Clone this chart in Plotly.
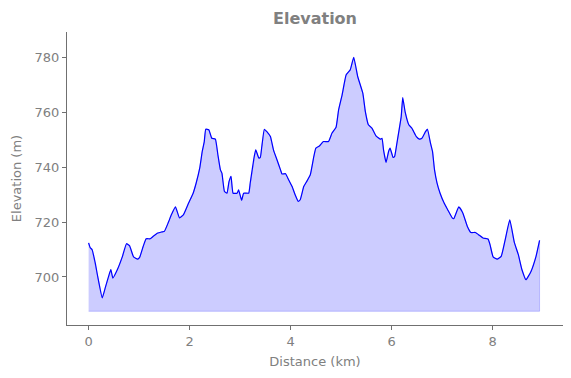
import plotly.graph_objects as go

distance_km = [0.00, 0.03, 0.07, 0.13, 0.18, 0.27, 0.33, 0.40, 0.44, 0.48, 0.57, 0.67, 0.75, 0.81, 0.89, 0.97,
               1.01, 1.08, 1.14, 1.22, 1.28, 1.37, 1.45, 1.50, 1.58, 1.64, 1.72, 1.80, 1.88, 1.98, 2.07, 2.13,
               2.20, 2.25, 2.29, 2.32, 2.38, 2.44, 2.51, 2.56, 2.61, 2.64, 2.69, 2.74, 2.78, 2.82, 2.86, 2.94,
               2.97, 3.03, 3.07, 3.17, 3.20, 3.28, 3.31, 3.37, 3.40, 3.43, 3.48, 3.53, 3.60, 3.66, 3.73, 3.80,
               3.83, 3.90, 3.96, 4.03, 4.09, 4.15, 4.19, 4.26, 4.32, 4.39, 4.46, 4.50, 4.57, 4.65, 4.75, 4.82,
               4.90, 4.95, 5.02, 5.10, 5.18, 5.25, 5.33, 5.43, 5.48, 5.54, 5.61, 5.69, 5.78, 5.81, 5.84, 5.89,
               5.94, 5.97, 6.03, 6.06, 6.11, 6.19, 6.22, 6.27, 6.34, 6.40, 6.49, 6.55, 6.60, 6.67, 6.71, 6.77,
               6.81, 6.85, 6.90, 6.96, 7.04, 7.11, 7.20, 7.23, 7.33, 7.41, 7.50, 7.57, 7.66, 7.72, 7.81, 7.91,
               7.95, 8.01, 8.09, 8.17, 8.25, 8.34, 8.43, 8.51, 8.58, 8.66, 8.76, 8.86, 8.93]
elevation_m = [712.4, 710.7, 709.9, 705.2, 700.2, 692.4, 696.1, 700.5, 702.7, 699.6, 702.7, 707.5, 712.1, 711.4,
               707.3, 706.5, 707.1, 711.1, 713.9, 713.9, 714.8, 716.0, 716.4, 716.6, 719.9, 722.7, 725.5, 721.5,
               722.7, 726.9, 730.5, 734.2, 739.6, 745.7, 749.3, 753.8, 753.6, 750.5, 750.2, 744.5, 739.0, 737.8,
               731.1, 730.5, 734.7, 736.6, 730.5, 730.5, 731.7, 727.9, 730.5, 730.5, 734.2, 743.9, 746.3, 743.3,
               743.5, 747.5, 753.8, 752.9, 751.1, 746.3, 742.7, 739.0, 737.5, 737.6, 735.4, 732.9, 729.9, 727.5,
               728.1, 732.9, 734.8, 737.2, 743.9, 746.9, 747.7, 749.3, 749.3, 752.4, 754.5, 760.8, 766.3, 773.6,
               775.4, 780.0, 772.9, 766.9, 760.2, 755.4, 754.2, 751.4, 750.2, 750.5, 746.3, 741.7, 745.7, 746.9,
               743.5, 743.9, 749.3, 758.4, 765.3, 759.9, 755.4, 754.2, 751.1, 750.2, 750.5, 752.9, 753.8, 748.7,
               745.7, 739.0, 734.2, 730.5, 726.9, 724.5, 721.5, 721.2, 725.5, 723.3, 718.4, 716.2, 716.2, 715.4,
               714.2, 713.8, 711.7, 707.3, 706.5, 707.5, 713.6, 720.8, 712.6, 708.1, 702.7, 699.0, 702.0, 707.5,
               713.3]
fill_base_m = 687.5
x_ticks = [0, 2, 4, 6, 8]
y_ticks = [700, 720, 740, 760, 780]

text_col = "#808080"
axis_col = "#707070"
font_family = "DejaVu Sans"

fig = go.Figure()

# filled area polygon (matplotlib fill_between style) built from the data arrays
poly_x = distance_km + distance_km[::-1]
poly_y = elevation_m + [fill_base_m] * len(distance_km)
fig.add_trace(go.Scatter(
    x=poly_x, y=poly_y, mode="lines", fill="toself",
    fillcolor="rgba(0,0,255,0.2)", line=dict(color="rgba(0,0,255,0.2)", width=1),
    hoverinfo="skip", showlegend=False))

fig.add_trace(go.Scatter(
    x=distance_km, y=elevation_m, mode="lines",
    line=dict(color="#0000ff", width=1.2, shape="spline", smoothing=0.4), showlegend=False))

fig.update_layout(
    width=571, height=378,
    margin=dict(l=67, r=8, t=32, b=53, autoexpand=False),
    paper_bgcolor="white", plot_bgcolor="white",
    font=dict(family=font_family, color=text_col, size=13),
    title=dict(text="<b>Elevation</b>", x=(67 + 563) / 2 / 571, xanchor="center",
               y=1 - 18 / 378, yanchor="middle",
               font=dict(family=font_family, size=16, color=text_col)),
    showlegend=False,
)
fig.update_xaxes(
    range=[-0.428, 9.394], tickvals=x_ticks, ticktext=[str(v) for v in x_ticks],
    showgrid=False, zeroline=False, showline=True, linecolor=axis_col, linewidth=1,
    ticks="outside", ticklen=4, tickcolor=axis_col, tickwidth=1, automargin=False,
    tickfont=dict(family=font_family, size=13, color=text_col),
    title=dict(text="Distance (km)", standoff=9,
               font=dict(family=font_family, size=13, color=text_col)),
)
fig.update_yaxes(
    range=[682.5, 789.2], tickvals=y_ticks, ticktext=[str(v) for v in y_ticks],
    showgrid=False, zeroline=False, showline=True, linecolor=axis_col, linewidth=1,
    ticks="outside", ticklen=4, tickcolor=axis_col, tickwidth=1, automargin=False,
    tickfont=dict(family=font_family, size=13, color=text_col),
    title=dict(text="Elevation (m)", standoff=10,
               font=dict(family=font_family, size=13, color=text_col)),
)

fig.write_html("out.html", config={"displayModeBar": False},
               post_script="document.body.style.margin='0';")
